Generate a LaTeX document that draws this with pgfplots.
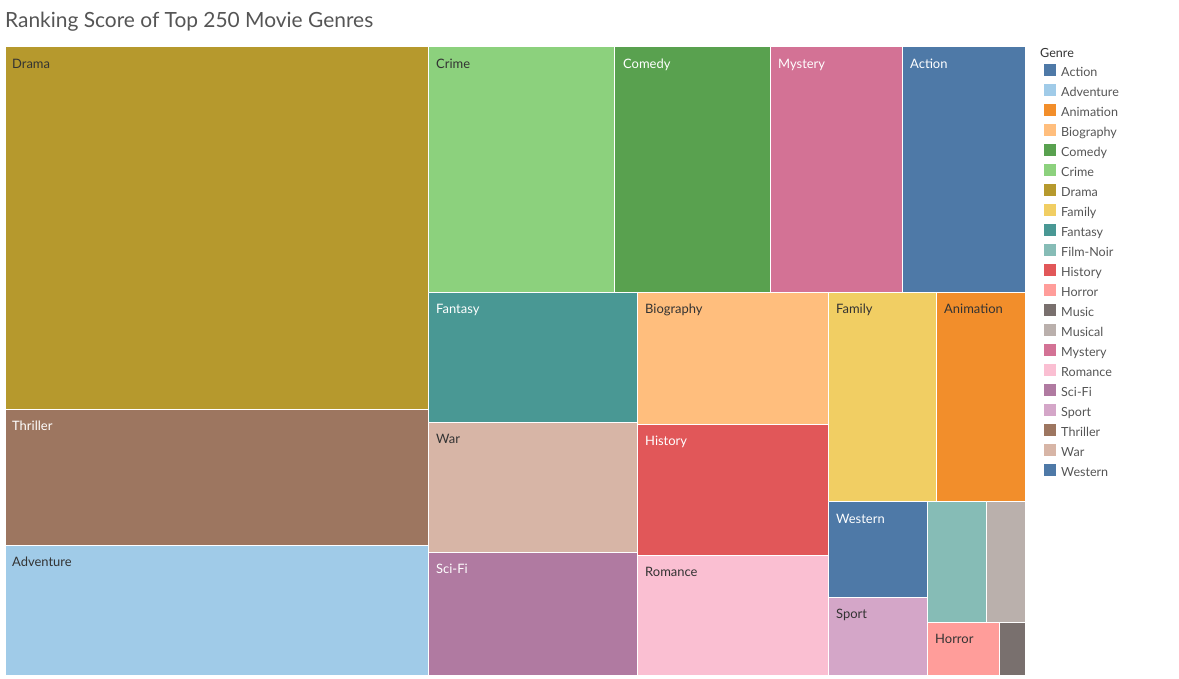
\documentclass[border=0pt]{standalone}
\usepackage{pgfplots}
\pgfplotsset{compat=1.18}
\usepackage{fontspec}
\setmainfont{Lato}
\definecolor{cAction}{HTML}{4E79A7}
\definecolor{cAdventure}{HTML}{A0CBE8}
\definecolor{cAnimation}{HTML}{F28E2B}
\definecolor{cBiography}{HTML}{FFBE7D}
\definecolor{cComedy}{HTML}{59A14F}
\definecolor{cCrime}{HTML}{8CD17D}
\definecolor{cDrama}{HTML}{B6992D}
\definecolor{cFamily}{HTML}{F1CE63}
\definecolor{cFantasy}{HTML}{499894}
\definecolor{cFilmNoir}{HTML}{86BCB6}
\definecolor{cHistory}{HTML}{E15759}
\definecolor{cHorror}{HTML}{FF9D9A}
\definecolor{cMusic}{HTML}{79706E}
\definecolor{cMusical}{HTML}{BAB0AC}
\definecolor{cMystery}{HTML}{D37295}
\definecolor{cRomance}{HTML}{FABFD2}
\definecolor{cSciFi}{HTML}{B07AA1}
\definecolor{cSport}{HTML}{D4A6C8}
\definecolor{cThriller}{HTML}{9D7660}
\definecolor{cWar}{HTML}{D7B5A6}
\definecolor{cWestern}{HTML}{4E79A7}
\definecolor{txtdark}{HTML}{333333}
\definecolor{txtgrey}{HTML}{555555}
\newcommand{\rect}[6]{%
  \addplot[fill=#1, draw=white, line width=1bp] coordinates {(#2,#3) (#4,#3) (#4,#5) (#2,#5) (#2,#3)};
  \addlegendentry{#6}}
\newcommand{\lab}[4]{\node[anchor=base west, inner sep=0pt, text=#1, font=\fontsize{13}{15}\selectfont] at (axis cs:#2,#3) {#4};}
\begin{document}
\begin{tikzpicture}
\begin{axis}[
  at={(0,0)}, anchor=south west,
  width=1179bp, height=679bp, scale only axis,
  xmin=0, xmax=1179, ymin=0, ymax=679, y dir=reverse,
  hide axis, clip=false,
  legend cell align=left,
  legend image code/.code={\path[#1,draw=none] (0bp,-2bp) rectangle (12bp,10bp);},
  legend style={at={(axis cs:1044,63.5)}, anchor=north west, draw=none, fill=none,
    inner sep=0pt, row sep=0pt,
    font=\fontsize{12.6}{14}\selectfont, text=txtgrey,
    nodes={inner ysep=4bp, inner xsep=3bp, text height=9bp, text depth=3bp},
    /tikz/every odd column/.append style={column sep=2bp}},
]
\addplot[draw=none, forget plot] coordinates {(0,0) (1179,679)};
\rect{cAction}{902.5}{47}{1025}{292.5}{Action}
\rect{cAdventure}{5}{545.5}{428.5}{675}{Adventure}
\rect{cAnimation}{936.5}{292.5}{1025}{501.5}{Animation}
\rect{cBiography}{637.5}{292.5}{828.5}{424.5}{Biography}
\rect{cComedy}{614.5}{47}{770.5}{292.5}{Comedy}
\rect{cCrime}{428.5}{47}{614.5}{292.5}{Crime}
\rect{cDrama}{5}{47}{428.5}{409.5}{Drama}
\rect{cFamily}{828.5}{292.5}{936.5}{501.5}{Family}
\rect{cFantasy}{428.5}{292.5}{637.5}{422.5}{Fantasy}
\rect{cFilmNoir}{927.5}{501.5}{986.5}{622.5}{Film-Noir}
\rect{cHistory}{637.5}{424.5}{828.5}{555.5}{History}
\rect{cHorror}{927.5}{622.5}{999.5}{675}{Horror}
\rect{cMusic}{999.5}{622.5}{1025}{675}{Music}
\rect{cMusical}{986.5}{501.5}{1025}{622.5}{Musical}
\rect{cMystery}{770.5}{47}{902.5}{292.5}{Mystery}
\rect{cRomance}{637.5}{555.5}{828.5}{675}{Romance}
\rect{cSciFi}{428.5}{552.5}{637.5}{675}{Sci-Fi}
\rect{cSport}{828.5}{597.5}{927.5}{675}{Sport}
\rect{cThriller}{5}{409.5}{428.5}{545.5}{Thriller}
\rect{cWar}{428.5}{422.5}{637.5}{552.5}{War}
\rect{cWestern}{828.5}{501.5}{927.5}{597.5}{Western}
% labels
\lab{txtdark}{12}{68.5}{Drama}
\lab{white}{12}{430.5}{Thriller}
\lab{txtdark}{12}{566.5}{Adventure}
\lab{txtdark}{436}{68.5}{Crime}
\lab{white}{623}{68.5}{Comedy}
\lab{white}{778}{68.5}{Mystery}
\lab{white}{910}{68.5}{Action}
\lab{white}{436}{313.5}{Fantasy}
\lab{txtdark}{645}{313.5}{Biography}
\lab{txtdark}{836}{313.5}{Family}
\lab{txtdark}{944}{313.5}{Animation}
\lab{txtdark}{436}{443.5}{War}
\lab{white}{645}{445.5}{History}
\lab{white}{436}{573.5}{Sci-Fi}
\lab{txtdark}{645}{576.5}{Romance}
\lab{white}{836}{523.5}{Western}
\lab{txtdark}{836}{618.5}{Sport}
\lab{txtdark}{935}{643.5}{Horror}
\node[anchor=base west, inner sep=0pt, text=txtgrey, font=\fontsize{21}{24}\selectfont] at (axis cs:5,28) {Ranking Score of Top 250 Movie Genres};
\node[anchor=base west, inner sep=0pt, text=txtdark, font=\fontsize{12.6}{14}\selectfont] at (axis cs:1040,58) {Genre};
\end{axis}
\end{tikzpicture}
\end{document}
